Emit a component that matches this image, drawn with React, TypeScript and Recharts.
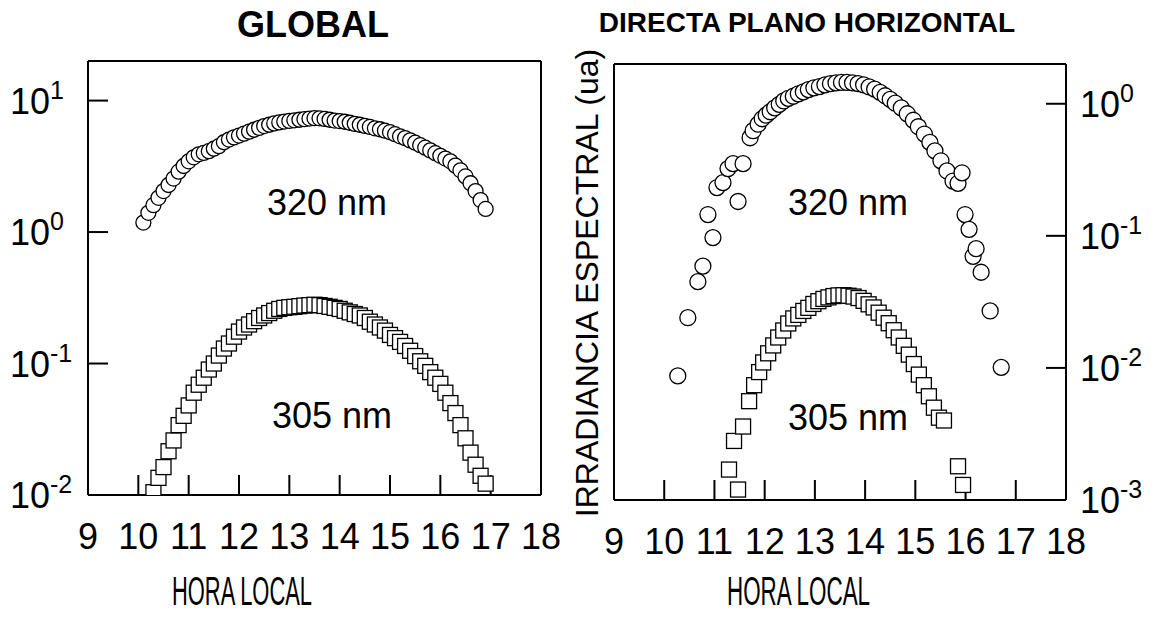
import React from 'react';
import { ScatterChart, Scatter, XAxis, YAxis } from 'recharts';

const FONT = '"Liberation Sans", Arial, Helvetica, sans-serif';

// ---- axis ticks / labels ----
const hourTicks = [9, 10, 11, 12, 13, 14, 15, 16, 17, 18];
const globalTicks = [0.01, 0.1, 1, 10];
const globalTickExps = ['-2', '-1', '0', '1'];
const directTicks = [0.001, 0.01, 0.1, 1];
const directTickExps = ['-3', '-2', '-1', '0'];

// ---- GLOBAL 320 nm ----
const global320Hours = [
  10.1, 10.2, 10.3, 10.4, 10.5, 10.6, 10.7, 10.8, 10.9, 11.0, 11.1, 11.2, 11.3, 11.4, 11.5, 11.6, 11.7, 11.8, 11.9,
  12.0, 12.1, 12.2, 12.3, 12.4, 12.5, 12.6, 12.7, 12.8, 12.9, 13.0, 13.1, 13.2, 13.3, 13.4, 13.5, 13.6, 13.7, 13.8,
  13.9, 14.0, 14.1, 14.2, 14.3, 14.4, 14.5, 14.6, 14.7, 14.8, 14.9, 15.0, 15.1, 15.2, 15.3, 15.4, 15.5, 15.6, 15.7,
  15.8, 15.9, 16.0, 16.1, 16.2, 16.3, 16.4, 16.5, 16.6, 16.7, 16.8, 16.9,
];
const global320Values = [
  1.18, 1.4, 1.6, 1.82, 2.05, 2.28, 2.55, 2.88, 3.18, 3.45, 3.7, 3.9, 4.0, 4.12, 4.3, 4.5, 4.82, 5.05, 5.25,
  5.42, 5.6, 5.8, 6.0, 6.2, 6.4, 6.55, 6.7, 6.82, 6.92, 7.0, 7.08, 7.15, 7.22, 7.3, 7.35, 7.33, 7.25, 7.15,
  7.05, 6.98, 6.9, 6.78, 6.65, 6.55, 6.42, 6.3, 6.15, 6.05, 5.9, 5.75, 5.55, 5.35, 5.18, 4.98, 4.78, 4.58, 4.38,
  4.18, 3.98, 3.8, 3.62, 3.45, 3.2, 2.95, 2.65, 2.35, 2.05, 1.75, 1.5,
];

// ---- GLOBAL 305 nm ----
const global305Hours = [
  10.3, 10.4, 10.5, 10.6, 10.7, 10.8, 10.9, 11.0, 11.1, 11.2, 11.3, 11.4, 11.5, 11.6, 11.7, 11.8, 11.9, 12.0, 12.1,
  12.2, 12.3, 12.4, 12.5, 12.6, 12.7, 12.8, 12.9, 13.0, 13.1, 13.2, 13.3, 13.4, 13.5, 13.6, 13.7, 13.8, 13.9, 14.0,
  14.1, 14.2, 14.3, 14.4, 14.5, 14.6, 14.7, 14.8, 14.9, 15.0, 15.1, 15.2, 15.3, 15.4, 15.5, 15.6, 15.7, 15.8, 15.9,
  16.0, 16.1, 16.2, 16.3, 16.4, 16.5, 16.6, 16.7, 16.8, 16.9,
];
const global305Values = [
  0.0105, 0.0135, 0.0163, 0.0215, 0.026, 0.034, 0.04, 0.048, 0.06, 0.069, 0.078, 0.09, 0.1, 0.115, 0.13, 0.142, 0.16,
  0.175, 0.188, 0.198, 0.21, 0.222, 0.232, 0.242, 0.252, 0.26, 0.265, 0.268, 0.27, 0.273, 0.276, 0.278, 0.28, 0.278,
  0.274, 0.27, 0.265, 0.26, 0.252, 0.245, 0.238, 0.232, 0.222, 0.208, 0.198, 0.188, 0.178, 0.165, 0.156, 0.146, 0.136,
  0.125, 0.114, 0.104, 0.096, 0.086, 0.078, 0.07, 0.06, 0.05, 0.042, 0.034, 0.027, 0.021, 0.017, 0.014, 0.0122,
];

// ---- DIRECTA 320 nm ----
const direct320Hours = [
  10.27, 10.47, 10.67, 10.77, 10.87, 10.97, 11.05, 11.17, 11.27, 11.37, 11.47, 11.57, 11.71, 11.77, 11.87, 11.95,
  12.03, 12.11, 12.2, 12.29, 12.38, 12.47, 12.57, 12.67, 12.77, 12.87, 12.98, 13.09, 13.2, 13.31, 13.42, 13.53, 13.64,
  13.75, 13.86, 13.97, 14.08, 14.19, 14.3, 14.4, 14.5, 14.6, 14.72, 14.84, 14.96, 15.06, 15.18, 15.29, 15.39, 15.51,
  15.63, 15.75, 15.85, 15.93, 15.99, 16.07, 16.15, 16.21, 16.31, 16.49, 16.71,
];
const direct320Values = [
  0.0087, 0.024, 0.045, 0.059, 0.145, 0.097, 0.232, 0.253, 0.323, 0.352, 0.182, 0.352, 0.553, 0.625, 0.7, 0.77,
  0.82, 0.87, 0.93, 0.99, 1.05, 1.1, 1.14, 1.19, 1.23, 1.28, 1.32, 1.35, 1.39, 1.42, 1.44, 1.45, 1.45,
  1.44, 1.42, 1.39, 1.34, 1.29, 1.22, 1.15, 1.08, 1.01, 0.93, 0.84, 0.75, 0.67, 0.59, 0.51, 0.44, 0.37,
  0.31, 0.26, 0.25, 0.3, 0.145, 0.112, 0.07, 0.08, 0.053, 0.027, 0.0101,
];

// ---- DIRECTA 305 nm ----
const direct305Hours = [
  11.29, 11.39, 11.47, 11.57, 11.69, 11.79, 11.89, 11.97, 12.07, 12.17, 12.27, 12.37, 12.47, 12.57, 12.67, 12.77,
  12.87, 12.97, 13.07, 13.17, 13.27, 13.37, 13.47, 13.57, 13.67, 13.77, 13.87, 13.97, 14.07, 14.17, 14.27, 14.37,
  14.47, 14.57, 14.67, 14.77, 14.87, 14.97, 15.07, 15.17, 15.27, 15.37, 15.47, 15.57, 15.85, 15.95,
];
const direct305Values = [
  0.0017, 0.0028, 0.0012, 0.0036, 0.0056, 0.0074, 0.0093, 0.011, 0.0129, 0.0148, 0.017, 0.0192, 0.0217, 0.0237,
  0.0252, 0.027, 0.0285, 0.0305, 0.032, 0.0333, 0.0342, 0.035, 0.0354, 0.0355, 0.0352, 0.0347, 0.0338, 0.0322,
  0.0303, 0.0287, 0.0262, 0.024, 0.0218, 0.0193, 0.017, 0.0147, 0.0126, 0.0107, 0.0089, 0.0074, 0.0061, 0.005,
  0.0042, 0.004, 0.0018, 0.0013,
];

const zip = (hs: number[], vs: number[]) => hs.map((h, i) => ({ h, v: vs[i] }));

const circleShape = (r: number) => (p: any) =>
  <circle cx={p.cx} cy={p.cy} r={r} fill="#fff" stroke="#000" strokeWidth={1.3} />;
const squareShape = (s: number) => (p: any) =>
  <rect x={p.cx - s / 2} y={p.cy - s / 2} width={s} height={s} fill="#fff" stroke="#000" strokeWidth={1.3} />;

const HourTick = (p: any) => (
  <text x={p.x} y={p.y + 54} textAnchor="middle" fontSize={36} fontFamily={FONT} fill="#000">
    {p.payload.value}
  </text>
);

const makePowTick = (ticks: number[], exps: string[]) => (p: any) => {
  const i = ticks.findIndex((t) => Math.abs(Math.log10(t) - Math.log10(p.payload.value)) < 1e-6);
  return (
    <text x={p.x} y={p.y + 13} textAnchor="start" fontSize={36} fontFamily={FONT} fill="#000">
      10
      <tspan dy={-15} fontSize={25}>{exps[i]}</tspan>
    </text>
  );
};

const axisCommon = {
  stroke: '#000',
  axisLine: { stroke: '#000', strokeWidth: 2 },
  tickLine: { stroke: '#000', strokeWidth: 2 },
  tickSize: -20,
  allowDataOverflow: true,
};

function Panel(props: {
  left: number;
  width: number;
  plot: { x0: number; x1: number; y0: number; y1: number };
  yTicks: number[];
  yDomain: [number, number];
  labelSide: 'left' | 'right';
  labelMargin: number;
  powTick: any;
  s320: any[];
  s305: any[];
  r: number;
  sq: number;
}) {
  const { left, width, plot, yTicks, yDomain, labelSide, labelMargin, powTick, s320, s305, r, sq } = props;
  const H = 619;
  // axes are 1px thick (width/height) so that they are drawn
  const margin = {
    left: plot.x0 - left - 1,
    right: left + width - plot.x1 - 1,
    top: plot.y0 - 1,
    bottom: H - plot.y1 - 1,
  };
  return (
    <div style={{ position: 'absolute', left, top: 0 }}>
      <ScatterChart width={width} height={H} margin={margin}>
        <XAxis
          xAxisId="b"
          dataKey="h"
          type="number"
          orientation="bottom"
          domain={[9, 18]}
          ticks={hourTicks}
          height={1}
          tickMargin={20}
          tick={HourTick}
          {...axisCommon}
        />
        <XAxis
          xAxisId="t"
          type="number"
          orientation="top"
          domain={[9, 18]}
          ticks={hourTicks}
          height={1}
          tick={false}
          {...axisCommon}
        />
        <YAxis
          yAxisId="l"
          dataKey="v"
          type="number"
          scale="log"
          orientation="left"
          domain={yDomain}
          ticks={yTicks}
          width={1}
          tickMargin={labelSide === 'left' ? labelMargin : 0}
          tick={labelSide === 'left' ? powTick : false}
          {...axisCommon}
        />
        <YAxis
          yAxisId="r"
          type="number"
          scale="log"
          orientation="right"
          domain={yDomain}
          ticks={yTicks}
          width={1}
          tickMargin={labelSide === 'right' ? labelMargin : 0}
          tick={labelSide === 'right' ? powTick : false}
          {...axisCommon}
        />
        <Scatter data={s305} xAxisId="b" yAxisId="l" shape={squareShape(sq)} isAnimationActive={false} />
        <Scatter data={s320} xAxisId="b" yAxisId="l" shape={circleShape(r)} isAnimationActive={false} />
      </ScatterChart>
    </div>
  );
}

export default function App() {
  const txt = { fontFamily: FONT, fill: '#000' } as const;
  return (
    <div style={{ position: 'absolute', left: 0, top: 0, width: 1160, height: 619, background: '#fff', overflow: 'hidden' }}>
      <Panel
        left={0}
        width={600}
        plot={{ x0: 88, x1: 541, y0: 61, y1: 495 }}
        yTicks={globalTicks}
        yDomain={[0.01, 20]}
        labelSide="left"
        labelMargin={98}
        powTick={makePowTick(globalTicks, globalTickExps)}
        s320={zip(global320Hours, global320Values)}
        s305={zip(global305Hours, global305Values)}
        r={7.5}
        sq={15}
      />
      <Panel
        left={560}
        width={600}
        plot={{ x0: 614, x1: 1066, y0: 64, y1: 500 }}
        yTicks={directTicks}
        yDomain={[0.001, 2]}
        labelSide="right"
        labelMargin={34}
        powTick={makePowTick(directTicks, directTickExps)}
        s320={zip(direct320Hours, direct320Values)}
        s305={zip(direct305Hours, direct305Values)}
        r={8}
        sq={15}
      />
      <svg width={1160} height={619} style={{ position: 'absolute', left: 0, top: 0, pointerEvents: 'none' }}>
        <text x={313} y={37} textAnchor="middle" fontSize={36} fontWeight="bold" {...txt}>GLOBAL</text>
        <text x={807} y={32} textAnchor="middle" fontSize={28} fontWeight="bold" {...txt}>DIRECTA PLANO HORIZONTAL</text>
        <text x={172} y={605} fontSize={41} textLength={140} lengthAdjust="spacingAndGlyphs" {...txt}>HORA LOCAL</text>
        <text x={727} y={605} fontSize={41} textLength={143} lengthAdjust="spacingAndGlyphs" {...txt}>HORA LOCAL</text>
        <text transform="translate(598,283) rotate(-90)" textAnchor="middle" fontSize={32} {...txt}>IRRADIANCIA ESPECTRAL (ua)</text>
        <text x={267} y={215} fontSize={36} {...txt}>320 nm</text>
        <text x={272} y={428} fontSize={36} {...txt}>305 nm</text>
        <text x={788} y={215} fontSize={36} {...txt}>320 nm</text>
        <text x={788} y={430} fontSize={36} {...txt}>305 nm</text>
      </svg>
    </div>
  );
}
